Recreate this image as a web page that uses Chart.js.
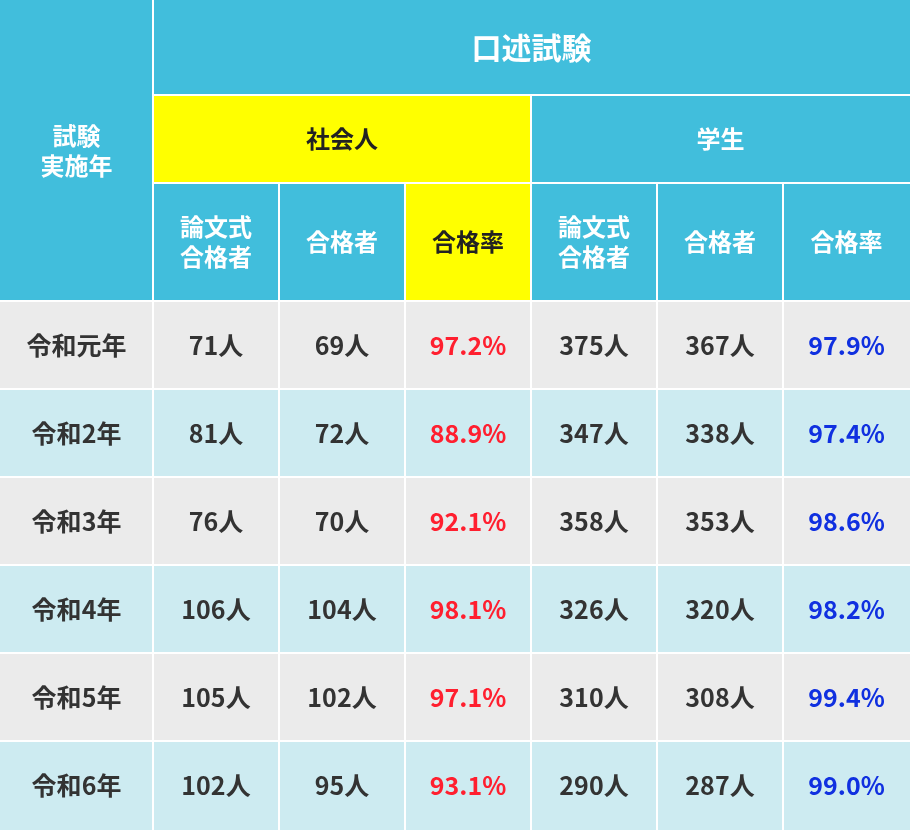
<!DOCTYPE html>
<html><head><meta charset="utf-8">
<script src="https://cdn.jsdelivr.net/npm/chart.js"></script>
<style>html,body{margin:0;padding:0;background:#fff}</style>
</head><body>
<canvas id="c" width="910" height="830"></canvas>
<script>
const years = ["令和元年","令和2年","令和3年","令和4年","令和5年","令和6年"];
const socWritten = ["71人","81人","76人","106人","105人","102人"];
const socPass = ["69人","72人","70人","104人","102人","95人"];
const socRate = ["97.2%","88.9%","92.1%","98.1%","97.1%","93.1%"];
const stuWritten = ["375人","347人","358人","326人","310人","290人"];
const stuPass = ["367人","338人","353人","320人","308人","287人"];
const stuRate = ["97.9%","97.4%","98.6%","98.2%","99.4%","99.0%"];
const colEdges = [0,153,279,405,531,657,783,910];
const rowEdges = [0,95,183,301,389,477,565,653,741,830];

const BLUE="#41bedc", YEL="#ffff00", GRAY="#ebebeb", LB="#cdebf1", DARK="#333333", RED="#ff1f2f", NAVY="#1030e0";
const FONT='"Noto Sans CJK JP","Noto Sans",sans-serif';

const tablePlugin = {
  id:'table',
  afterDraw(chart){
    const ctx=chart.ctx, xs=chart.scales.x, ys=chart.scales.y;
    function cell(c0,c1,r0,r1,bg,lines,color,size){
      const x0=xs.getPixelForValue(colEdges[c0]), x1=xs.getPixelForValue(colEdges[c1]);
      const y0=ys.getPixelForValue(rowEdges[r0]), y1=ys.getPixelForValue(rowEdges[r1]);
      ctx.fillStyle=bg;
      ctx.fillRect(x0+(c0?1:0), y0+(r0?1:0), x1-x0-(c0?1:0)-(c1<7?1:0), y1-y0-(r0?1:0)-(r1<9?1:0));
      ctx.fillStyle=color; ctx.font='bold '+size+'px '+FONT;
      ctx.textAlign='center'; ctx.textBaseline='middle';
      const lh=size*1.25, cx=(x0+x1)/2, cy=(y0+y1)/2;
      lines.forEach((t,i)=>ctx.fillText(t,cx,cy+(i-(lines.length-1)/2)*lh));
    }
    ctx.save();
    cell(0,1,0,3,BLUE,["試験","実施年"],"#fff",24);
    cell(1,7,0,1,BLUE,["口述試験"],"#fff",30);
    cell(1,4,1,2,YEL,["社会人"],"#222",24);
    cell(4,7,1,2,BLUE,["学生"],"#fff",24);
    const subs=[["論文式","合格者"],["合格者"],["合格率"],["論文式","合格者"],["合格者"],["合格率"]];
    subs.forEach((s,i)=>cell(i+1,i+2,2,3,i===2?YEL:BLUE,s,i===2?"#222":"#fff",24));
    years.forEach((y,r)=>{
      const bg=r%2?LB:GRAY, rr=r+3;
      const vals=[y,socWritten[r],socPass[r],socRate[r],stuWritten[r],stuPass[r],stuRate[r]];
      vals.forEach((v,c)=>cell(c,c+1,rr,rr+1,bg,[v],c===3?RED:c===6?NAVY:DARK,25));
    });
    ctx.restore();
  }
};

new Chart(document.getElementById('c'),{
  type:'scatter',
  data:{datasets:[{data:[]}]},
  options:{
    responsive:false, animation:false,
    layout:{padding:0},
    plugins:{legend:{display:false},tooltip:{enabled:false}},
    scales:{
      x:{type:'linear',min:0,max:910,display:false},
      y:{type:'linear',min:0,max:830,reverse:true,display:false}
    }
  },
  plugins:[tablePlugin]
});
</script>
</body></html>
